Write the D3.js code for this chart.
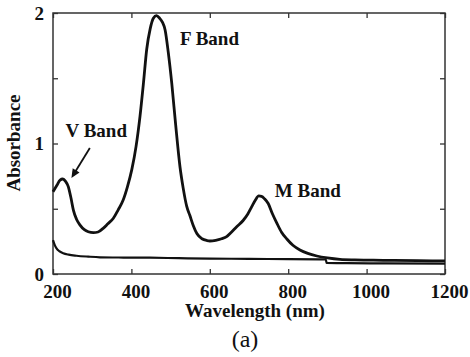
<!DOCTYPE html>
<html>
<head>
<meta charset="utf-8">
<script src="https://cdn.jsdelivr.net/npm/d3@7/dist/d3.min.js"></script>
<style>
  html, body { margin: 0; padding: 0; background: #fff; }
  svg { display: block; }
  svg text { font-family: "Liberation Serif", "DejaVu Serif", "Times New Roman", Times, serif; fill: #111; }
</style>
</head>
<body>
<svg id="chart" width="470" height="357"></svg>
<script>
// Absorption spectrum after irradiation (colour-centre bands)
const irrWavelength = [200, 210, 218, 225, 232, 239, 246, 252, 260, 269, 280, 290, 303, 315, 328, 340, 354, 366, 379, 390,
  401, 412, 422, 431, 439, 448, 456, 464, 472, 479, 486, 494, 503, 513, 524, 532, 541, 549, 558, 567,
  580, 593, 600, 615, 630, 643, 655, 668, 685, 697, 707, 716, 725, 732, 740, 749, 760, 771, 783, 796,
  812, 830, 850, 873, 900, 932, 970, 1017, 1070, 1130, 1200];
const irrAbsorbance = [0.63, 0.68, 0.72, 0.728, 0.71, 0.67, 0.58, 0.49, 0.42, 0.375, 0.34, 0.324, 0.317, 0.322, 0.35, 0.385, 0.427, 0.49, 0.567, 0.67,
  0.80, 0.98, 1.21, 1.47, 1.72, 1.88, 1.96, 1.98, 1.96, 1.93, 1.87, 1.70, 1.46, 1.14, 0.82, 0.66, 0.52, 0.45, 0.37, 0.31,
  0.27, 0.256, 0.253, 0.258, 0.27, 0.286, 0.32, 0.36, 0.41, 0.46, 0.516, 0.565, 0.598, 0.595, 0.575, 0.54, 0.46, 0.39, 0.32, 0.27,
  0.22, 0.184, 0.158, 0.138, 0.123, 0.112, 0.108, 0.106, 0.104, 0.102, 0.10];

// Absorption spectrum before irradiation
const refWavelength = [200, 204, 209, 216, 226, 240, 260, 290, 320, 380, 447, 520, 600, 700, 800, 880, 896, 898, 950, 1050, 1200];
const refAbsorbance = [0.26, 0.225, 0.197, 0.175, 0.159, 0.148, 0.14, 0.133, 0.128, 0.126, 0.125, 0.121, 0.118, 0.116, 0.114, 0.112, 0.111, 0.085, 0.083, 0.081, 0.08];

const xTicks = [200, 400, 600, 800, 1000, 1200];
const yTicks = [0, 0.5, 1, 1.5, 2];

// Band labels: text, anchor wavelength, anchor absorbance
const bandLabels = ["V Band", "F Band", "M Band"];
const bandLabelX = [232, 524, 766];
const bandLabelY = [1.05, 1.755, 0.59];

const svg = d3.select("#chart");
const margin = { left: 53, right: 25, top: 13, bottom: 83 };
const W = 470, H = 357;

const x = d3.scaleLinear().domain([200, 1200]).range([margin.left, W - margin.right]);
const y = d3.scaleLinear().domain([0, 2]).range([H - margin.bottom, margin.top]);

const irr = irrWavelength.map((w, i) => [w, irrAbsorbance[i]]);
const ref = refWavelength.map((w, i) => [w, refAbsorbance[i]]);

const line = d3.line()
  .x(d => x(d[0]))
  .y(d => y(d[1]))
  .curve(d3.curveMonotoneX);

// Axes with inward ticks on all four sides
const fmtY = d => Number.isInteger(d) ? String(d) : "";
const fmtX = d => String(d);

const axisB = svg.append("g")
  .attr("transform", `translate(0,${y(0)})`)
  .call(d3.axisBottom(x).tickValues(xTicks).tickSizeInner(-5).tickSizeOuter(0).tickPadding(10.5).tickFormat(fmtX));
const axisT = svg.append("g")
  .attr("transform", `translate(0,${y(2)})`)
  .call(d3.axisTop(x).tickValues(xTicks).tickSizeInner(-5).tickSizeOuter(0).tickFormat(""));
const axisL = svg.append("g")
  .attr("transform", `translate(${x(200)},0)`)
  .call(d3.axisLeft(y).tickValues(yTicks).tickSizeInner(-5).tickSizeOuter(0).tickPadding(9).tickFormat(fmtY));
const axisR = svg.append("g")
  .attr("transform", `translate(${x(1200)},0)`)
  .call(d3.axisRight(y).tickValues(yTicks).tickSizeInner(-5).tickSizeOuter(0).tickFormat(""));

[axisB, axisT, axisL, axisR].forEach(g => {
  g.attr("font-family", null);
  g.select(".domain").remove();
  g.selectAll(".tick line").attr("stroke", "#333").attr("stroke-width", 1.3);
  g.selectAll("text")
    .attr("font-weight", "bold")
    .attr("font-size", 19)
    .attr("fill", "#111");
});
// Wavelength labels sit a little right of their ticks
axisB.selectAll(".tick text").attr("dx", 4);

// Frame
svg.append("rect")
  .attr("x", x(200)).attr("y", y(2))
  .attr("width", x(1200) - x(200)).attr("height", y(0) - y(2))
  .attr("fill", "none").attr("stroke", "#333").attr("stroke-width", 1.5);

// Spectra
svg.append("path").datum(ref)
  .attr("d", line).attr("fill", "none").attr("stroke", "#111").attr("stroke-width", 2.2);
svg.append("path").datum(irr)
  .attr("d", line).attr("fill", "none").attr("stroke", "#111").attr("stroke-width", 2.8)
  .attr("stroke-linejoin", "round");

// Band labels
svg.selectAll("text.band").data(bandLabels).enter().append("text")
  .attr("class", "band")
  .attr("x", (d, i) => x(bandLabelX[i]))
  .attr("y", (d, i) => y(bandLabelY[i]))
  .attr("font-weight", "bold").attr("font-size", 19)
  .text(d => d);

// Arrow pointing to the V band peak
const ax0 = x(294), ay0 = y(0.966), ax1 = x(247), ay1 = y(0.735);
const ang = Math.atan2(ay1 - ay0, ax1 - ax0);
const headLen = 9, headW = 4;
svg.append("line")
  .attr("x1", ax0).attr("y1", ay0)
  .attr("x2", ax1 - Math.cos(ang) * 5).attr("y2", ay1 - Math.sin(ang) * 5)
  .attr("stroke", "#111").attr("stroke-width", 1.8);
const bx = ax1 - Math.cos(ang) * headLen, by = ay1 - Math.sin(ang) * headLen;
svg.append("path")
  .attr("d", `M${ax1},${ay1} L${bx - Math.sin(ang) * headW},${by + Math.cos(ang) * headW} L${bx + Math.sin(ang) * headW},${by - Math.cos(ang) * headW} Z`)
  .attr("fill", "#111");

// Axis titles
svg.append("text")
  .attr("transform", `translate(20,143) rotate(-90)`)
  .attr("text-anchor", "middle")
  .attr("font-weight", "bold").attr("font-size", 19)
  .text("Absorbance");
svg.append("text")
  .attr("x", 255).attr("y", 317)
  .attr("text-anchor", "middle")
  .attr("font-weight", "bold").attr("font-size", 19)
  .text("Wavelength (nm)");
svg.append("text")
  .attr("x", 245).attr("y", 347)
  .attr("text-anchor", "middle")
  .attr("font-size", 24)
  .text("(a)");
</script>
</body>
</html>
